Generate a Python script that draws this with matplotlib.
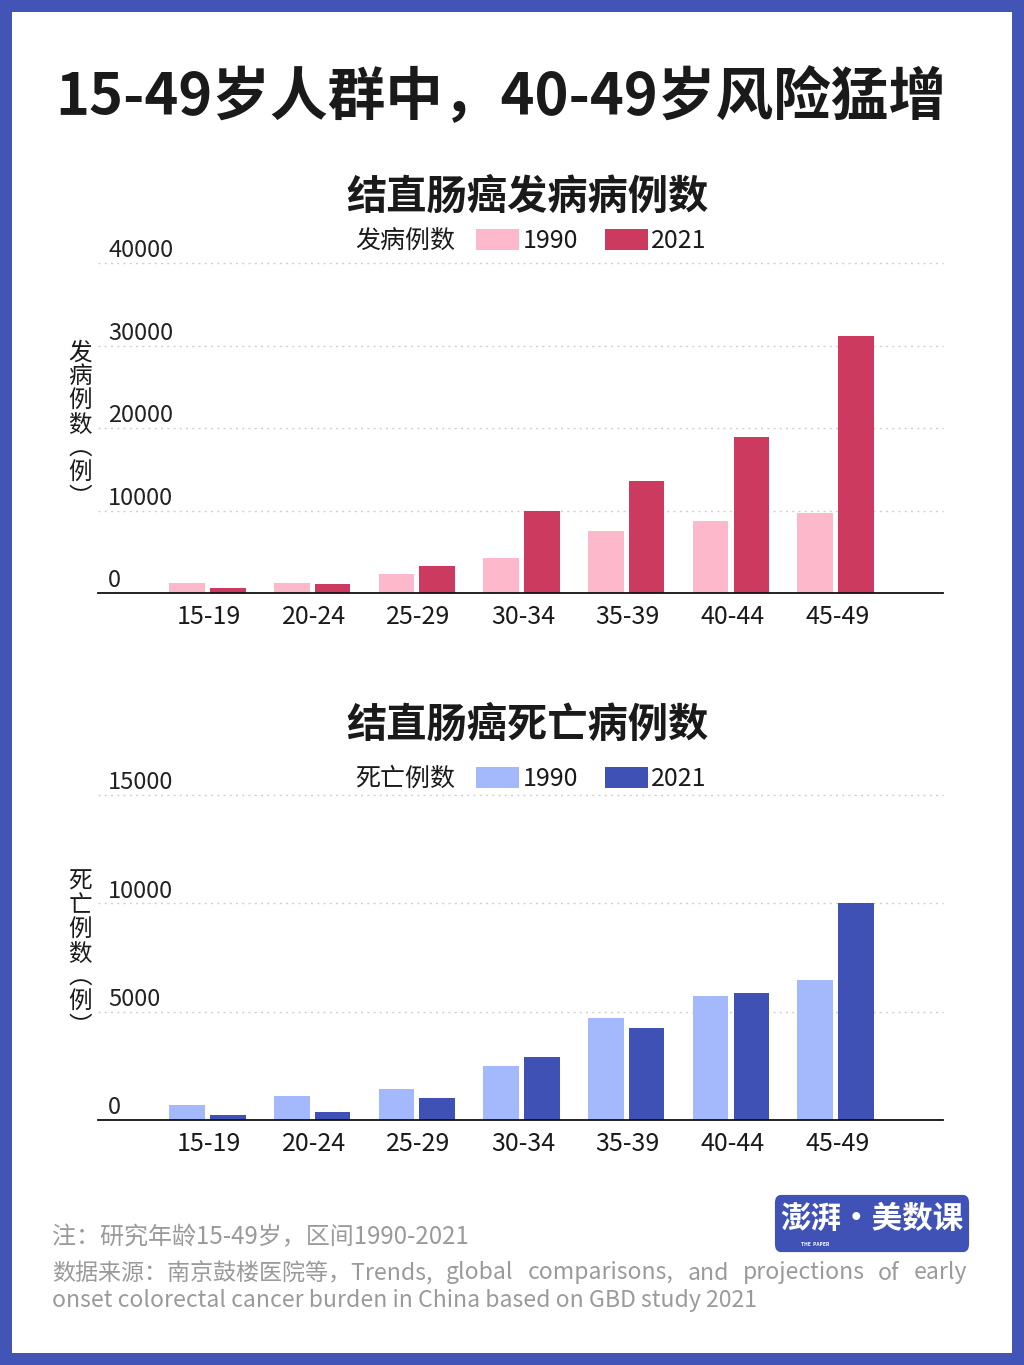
import matplotlib
matplotlib.use("Agg")
import matplotlib.pyplot as plt
from matplotlib.patches import Rectangle, FancyBboxPatch, Patch
import matplotlib.transforms as mtransforms

plt.rcParams['font.family'] = ['Noto Sans CJK SC', 'DejaVu Sans']

# ---------------- data ----------------
age_groups = ["15-19", "20-24", "25-29", "30-34", "35-39", "40-44", "45-49"]
incidence_1990 = [1200, 1200, 2300, 4250, 7500, 8700, 9700]
incidence_2021 = [600, 1100, 3300, 9950, 13600, 18900, 31150]
deaths_1990 = [690, 1100, 1430, 2490, 4700, 5720, 6460]
deaths_2021 = [230, 370, 1015, 2900, 4250, 5860, 10000]
inc_ticks = [0, 10000, 20000, 30000, 40000]
death_ticks = [0, 5000, 10000, 15000]
years = ["1990", "2021"]

title = "15-49岁人群中，40-49岁风险猛增"
title_inc = "结直肠癌发病病例数"
title_death = "结直肠癌死亡病例数"
legend_inc = "发病例数"
legend_death = "死亡例数"
ylabel_inc = "发\n病\n例\n数\n︵\n例\n︶"
ylabel_death = "死\n亡\n例\n数\n︵\n例\n︶"
note1 = "注：研究年龄15-49岁，区间1990-2021"
note2_words = ["数据来源：南京鼓楼医院等，Trends,", "global", "comparisons,", "and",
               "projections", "of", "early"]
note3 = "onset colorectal cancer burden in China based on GBD study 2021"

PINK = "#FDB9CB"
CRIMSON = "#CC3A60"
LBLUE = "#A4B9FC"
DBLUE = "#3F51B5"
BORDER = "#4354B7"
GRAY = "#9a9a9a"

W, H = 1024, 1365
fig = plt.figure(figsize=(W / 100, H / 100), dpi=100, facecolor=BORDER)
fig.patches.append(Rectangle((12 / W, 12 / H), 1000 / W, 1341 / H,
                             transform=fig.transFigure, facecolor="white",
                             edgecolor="none", zorder=-5))


def fx(px):
    return px / W


def fy(py):
    return 1 - py / H


fig.text(fx(55), fy(98), title, fontsize=41.5, fontweight="heavy",
         color="#1a1a1a", ha="left", va="center")


def make_chart(rect, v1990, v2021, ticks, c1, c2, ttl, ttl_y, leg_txt, leg_y,
               ylab, ylab_y):
    ax = fig.add_axes(rect)
    ax.set_zorder(2)
    x = list(range(len(age_groups)))
    ax.bar([i - 0.21 for i in x], v1990, width=0.34, color=c1, zorder=2)
    ax.bar([i + 0.18 for i in x], v2021, width=0.34, color=c2, zorder=2)
    ax.set_xlim(-1.06, 7.01)
    ax.set_ylim(0, ticks[-1])
    ax.set_xticks(x)
    ax.set_xticklabels(age_groups, fontsize=18, color="#1a1a1a")
    ax.tick_params(axis="x", length=0, pad=8)
    ax.set_yticks([])
    for s in ["top", "right", "left"]:
        ax.spines[s].set_visible(False)
    ax.spines["bottom"].set_color("#111111")
    ax.spines["bottom"].set_linewidth(1.3)
    ax.spines["bottom"].set_zorder(3)
    ax.set_facecolor("none")
    trans = mtransforms.blended_transform_factory(ax.transAxes, ax.transData)
    for t in ticks:
        if t > 0:
            ax.plot([0, 1], [t, t], transform=trans, color="#cfcfcf", lw=1.0,
                    ls=(0, (1.5, 3)), clip_on=False, zorder=1)
        ax.annotate(str(t), xy=(0.012, t), xycoords=trans, xytext=(0, 4),
                    textcoords="offset points", ha="left", va="baseline",
                    fontsize=17, color="#222222", annotation_clip=False)
    fig.text(fx(527), fy(ttl_y), ttl, fontsize=29, fontweight="bold",
             color="#1a1a1a", ha="center", va="center")
    fig.text(fx(455), fy(leg_y), leg_txt, fontsize=18, color="#1a1a1a",
             ha="right", va="center")
    handles = [Patch(facecolor=c1, edgecolor="none"),
               Patch(facecolor=c2, edgecolor="none")]
    fig.legend(handles, years, loc="center left",
               bbox_to_anchor=(fx(476), fy(leg_y)), ncol=2, frameon=False,
               fontsize=18, handlelength=1.72, handleheight=0.88,
               handletextpad=0.15, columnspacing=1.05, borderpad=0,
               borderaxespad=0, labelcolor="#1a1a1a")
    fig.text(fx(80), fy(ylab_y), ylab, fontsize=17, color="#1a1a1a",
             ha="center", va="center", linespacing=1.06)
    return ax


make_chart([fx(98), fy(593), (943 - 98) / W, (593 - 263) / H],
           incidence_1990, incidence_2021, inc_ticks, PINK, CRIMSON,
           title_inc, 197, legend_inc, 241, ylabel_inc, 425)
make_chart([fx(98), fy(1120), (943 - 98) / W, (1120 - 795) / H],
           deaths_1990, deaths_2021, death_ticks, LBLUE, DBLUE,
           title_death, 725, legend_death, 779, ylabel_death, 954)

# footnotes
fig.text(fx(52), fy(1237), note1, fontsize=17.3, color=GRAY, ha="left",
         va="center")
fig.text(fx(52), fy(1300), note3, fontsize=16.6, color=GRAY, ha="left",
         va="center")

fig.canvas.draw()
renderer = fig.canvas.get_renderer()
word_artists = []
widths = []
for w in note2_words:
    t = fig.text(0, fy(1273), w, fontsize=16.6, color=GRAY, ha="left",
                 va="center")
    bb = t.get_window_extent(renderer=renderer)
    word_artists.append(t)
    widths.append(bb.width)
left_px, right_px = 52, 967
gap = (right_px - left_px - sum(widths)) / (len(widths) - 1)
cur = left_px
for t, wd in zip(word_artists, widths):
    t.set_x(cur / W)
    cur += wd + gap

# logo
fig.patches.append(FancyBboxPatch((fx(778), fy(1248)), 188 / W, 49 / H,
                                  boxstyle="round,pad=0.003,rounding_size=0.006",
                                  transform=fig.transFigure, facecolor="#4052B5",
                                  edgecolor="none", zorder=1))
fig.text(fx(872), fy(1219), "澎湃·美数课", fontsize=22, fontweight="bold",
         color="white", ha="center", va="center")
fig.text(fx(815), fy(1244), "THE  PAPER", fontsize=3.5, fontweight="bold",
         color="white", ha="center", va="center")

fig.savefig("out.png", dpi=100, facecolor=fig.get_facecolor())
